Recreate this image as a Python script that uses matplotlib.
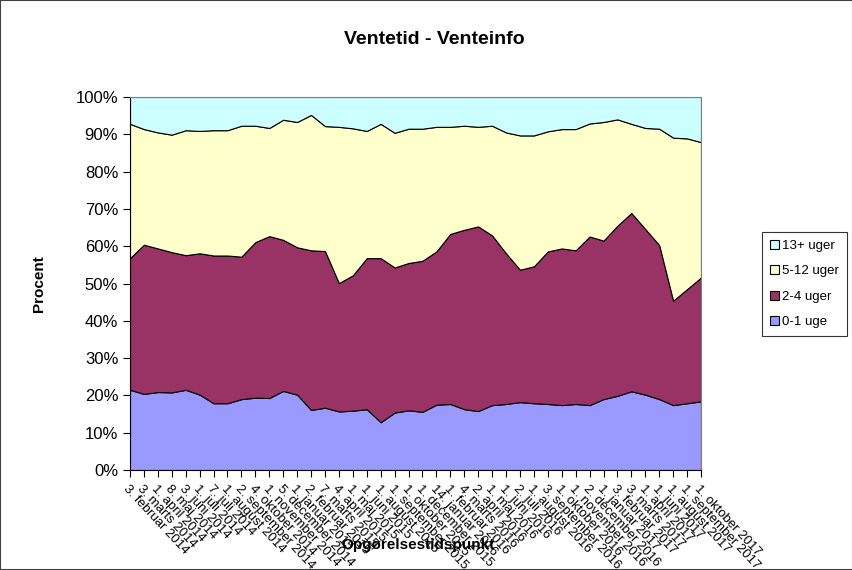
import numpy as np
import matplotlib
matplotlib.use('Agg')
import matplotlib.pyplot as plt
from matplotlib.patches import Rectangle

plt.rcParams['font.family'] = ['Liberation Sans', 'DejaVu Sans']

dates = ['3. februar 2014', '3. marts 2014', '1. april 2014', '8. maj 2014',
         '3. juni 2014', '1. juli 2014', '7. juli 2014', '1. august 2014',
         '2. september 2014', '4. oktober 2014', '1. november 2014',
         '5. december 2014', '1. januar 2015', '2. februar 2015', '7. marts 2015',
         '4. april 2015', '1. maj 2015', '1. juni 2015', '1. august 2015',
         '1. september 2015', '1. oktober 2015', '1. december 2015',
         '14. januar 2016', '1. februar 2016', '4. marts 2016', '2. april 2016',
         '1. maj 2016', '1. juni 2016', '2. juli 2016', '1. august 2016',
         '3. september 2016', '1. oktober 2016', '1. november 2016',
         '2. december 2016', '1. januar 2017', '3. februar 2017', '3. marts 2017',
         '1. april 2017', '1. juni 2017', '1. august 2017', '1. september 2017',
         '1. oktober 2017']

# andel i procent for hver ventetidsgruppe
uge_0_1 = [21.5, 20.4, 20.9, 20.8, 21.5, 20.2, 17.9, 17.9, 19.0, 19.4, 19.3, 21.2,
           20.2, 16.1, 16.7, 15.7, 15.9, 16.3, 12.8, 15.4, 16.0, 15.6, 17.5, 17.7,
           16.3, 15.8, 17.4, 17.7, 18.2, 17.9, 17.7, 17.4, 17.7, 17.4, 19.0, 19.9,
           21.1, 20.2, 19.0, 17.4, 17.9, 18.4]
uger_2_4 = [35.3, 40.0, 38.5, 37.6, 36.1, 37.9, 39.6, 39.6, 38.2, 41.7, 43.4, 40.5,
            39.5, 42.8, 42.0, 34.4, 36.3, 40.5, 44.0, 38.9, 39.5, 40.5, 41.1, 45.6,
            48.1, 49.5, 45.5, 40.4, 35.5, 36.7, 40.9, 42.0, 41.2, 45.2, 42.5, 45.6,
            47.8, 44.4, 41.3, 28.0, 30.6, 33.2]
uger_5_12 = [36.0, 31.0, 31.1, 31.5, 33.5, 32.8, 33.6, 33.6, 35.1, 31.2, 29.0, 32.2,
             33.6, 36.3, 33.5, 41.9, 39.4, 34.1, 36.0, 36.1, 36.0, 35.4, 33.4, 28.7,
             27.9, 26.7, 29.4, 32.4, 36.0, 35.1, 32.2, 32.0, 32.5, 30.3, 31.8, 28.5,
             23.9, 27.1, 31.2, 43.7, 40.4, 36.3]
uger_13 = [7.2, 8.6, 9.5, 10.1, 8.9, 9.1, 8.9, 8.9, 7.7, 7.7, 8.3, 6.1,
           6.7, 4.8, 7.8, 8.0, 8.4, 9.1, 7.2, 9.6, 8.5, 8.5, 8.0, 8.0,
           7.7, 8.0, 7.7, 9.5, 10.3, 10.3, 9.2, 8.6, 8.6, 7.1, 6.7, 6.0,
           7.2, 8.3, 8.5, 10.9, 11.1, 12.1]

labels = ['0-1 uge', '2-4 uger', '5-12 uger', '13+ uger']
colors = ['#9999FF', '#993366', '#FFFFCC', '#CCFFFF']

fig = plt.figure(figsize=(8.53, 5.70), dpi=100)
ax = fig.add_axes([130/853, 1-470/570, 571/853, 373/570])

x = np.arange(len(dates))
polys = ax.stackplot(x, uge_0_1, uger_2_4, uger_5_12, uger_13,
                     colors=colors, labels=labels, edgecolor='black', linewidth=0.8)

ax.set_xlim(0, len(dates) - 1)
ax.set_ylim(0, 100)
ax.set_yticks(np.arange(0, 101, 10))
ax.set_yticklabels([f'{v}%' for v in range(0, 101, 10)], fontsize=12)
ax.set_xticks(x)
ax.set_xticklabels(dates, rotation=-47, ha='left', va='top',
                   rotation_mode='anchor', fontsize=9.5)
ax.tick_params(axis='both', direction='out', length=5, color='black')
ax.tick_params(axis='x', pad=4)

for side in ['top', 'right']:
    ax.spines[side].set_color('#808080')
for side in ['left', 'bottom']:
    ax.spines[side].set_color('black')

fig.text(434/853, 1-40/570, 'Ventetid - Venteinfo', fontsize=14,
         fontweight='bold', ha='center', va='center')
ax.set_ylabel('Procent', fontsize=11, fontweight='bold', labelpad=21)
fig.text(418/853, 1-545/570, 'Opgørelsestidspunkt', fontsize=11,
         fontweight='bold', ha='center', va='center')

handles = polys[::-1]
leg = fig.legend(handles, labels[::-1], loc='center left',
                 bbox_to_anchor=(762/853, 1-284/570), fontsize=9.5,
                 frameon=True, fancybox=False, edgecolor='black',
                 handlelength=0.7, handleheight=0.7, handletextpad=0.25,
                 labelspacing=1.0, borderpad=0.6, borderaxespad=0)
leg.get_frame().set_linewidth(0.8)

fig.patches.append(Rectangle((0, 0), 1, 1, transform=fig.transFigure,
                             fill=False, edgecolor='#404040', linewidth=1.5))

fig.savefig('out.png', dpi=100)
